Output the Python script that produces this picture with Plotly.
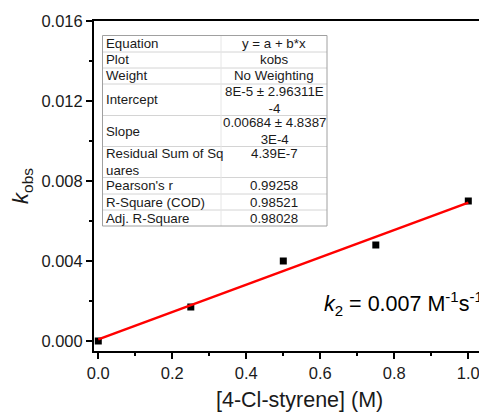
import plotly.graph_objects as go

# ---- data ----
conc = [0.0, 0.25, 0.5, 0.75, 1.0]
kobs = [0.0000, 0.0017, 0.0040, 0.0048, 0.0070]
fit_x = [0.0, 1.0]
fit_y = [0.00008, 0.00692]

x_ticks = [0.0, 0.2, 0.4, 0.6, 0.8, 1.0]
x_ticklabels = ["0.0", "0.2", "0.4", "0.6", "0.8", "1.0"]
y_ticks = [0.000, 0.004, 0.008, 0.012, 0.016]
y_ticklabels = ["0.000", "0.004", "0.008", "0.012", "0.016"]

table_labels = ["Equation", "Plot", "Weight", "Intercept", "Slope",
                "Residual Sum of Sq<br>uares", "Pearson's r", "R-Square (COD)", "Adj. R-Square"]
table_values = ["y = a + b*x", "kobs", "No Weighting", "8E-5 ± 2.96311E<br>-4",
                "0.00684 ± 4.8387<br>3E-4", "4.39E-7<br> ", "0.99258", "0.98521", "0.98028"]

# ---- layout geometry (pixels, in screenshot coordinates) ----
OFF = 8  # page body margin
SW, SH = 487, 413
W, H = SW - OFF, SH - OFF
PL, PR, PT, PB = 94, 487, 21, 351  # plot area in screenshot px
L, T = PL - OFF, PT - OFF
R = W - (PR - OFF)
B = H - (PB - OFF)
pw, ph = PR - PL, PB - PT

def xp(px):
    return (px - PL) / pw

def yp(py):
    return (PB - py) / ph

fig = go.Figure()
fig.add_trace(go.Scatter(x=conc, y=kobs, mode="markers",
                         marker=dict(symbol="square", size=7, color="black"),
                         showlegend=False, cliponaxis=False))
fig.add_trace(go.Scatter(x=fit_x, y=fit_y, mode="lines",
                         line=dict(color="#ff0000", width=2.5),
                         showlegend=False))

# table
row_bounds = [35.5, 52, 68, 84, 115.5, 146.5, 177.5, 194, 210, 226]
tx0, tx1, tcol = 102.5, 327, 221
shapes = []
for i in range(1, len(row_bounds) - 1):
    shapes.append(dict(type="line", xref="paper", yref="paper",
                       x0=xp(tx0), x1=xp(tx1), y0=yp(row_bounds[i]), y1=yp(row_bounds[i]),
                       line=dict(color="#d4d4d4", width=1)))
shapes.append(dict(type="line", xref="paper", yref="paper",
                   x0=xp(tcol), x1=xp(tcol), y0=yp(row_bounds[0]), y1=yp(row_bounds[-1]),
                   line=dict(color="#e6e6e6", width=1)))
shapes.append(dict(type="rect", xref="paper", yref="paper",
                   x0=xp(tx0), x1=xp(tx1), y0=yp(row_bounds[-1]), y1=yp(row_bounds[0]),
                   line=dict(color="#a0a0a0", width=1), fillcolor="rgba(0,0,0,0)"))

annotations = []
tfont = dict(family="Arial, Liberation Sans, sans-serif", size=13.3, color="#1a1a1a")
for i, (lab, val) in enumerate(zip(table_labels, table_values)):
    yc = (row_bounds[i] + row_bounds[i + 1]) / 2
    annotations.append(dict(text=lab, xref="paper", yref="paper", x=xp(tx0 + 1.5), y=yp(yc),
                            xanchor="left", yanchor="middle", showarrow=False, align="left",
                            font=tfont))
    annotations.append(dict(text=val, xref="paper", yref="paper", x=xp((tcol + tx1) / 2), y=yp(yc),
                            xanchor="center", yanchor="middle", showarrow=False, align="center",
                            font=tfont))

annotations.append(dict(text="<i>k</i><sub>2</sub> = 0.007 M<sup>-1</sup>s<sup>-1</sup>",
                        xref="paper", yref="paper", x=xp(485), y=yp(303),
                        xanchor="right", yanchor="middle", showarrow=False,
                        font=dict(family="Arial, Liberation Sans, sans-serif", size=21.5, color="black")))
annotations.append(dict(text="[4-Cl-styrene] (M)", xref="paper", yref="paper",
                        x=xp(299.5), y=yp(400), xanchor="center", yanchor="middle", showarrow=False,
                        font=dict(family="Arial, Liberation Sans, sans-serif", size=21.5, color="#1a1a1a")))

axis_font = dict(family="Arial, Liberation Sans, sans-serif", size=16.5, color="#1a1a1a")
fig.update_layout(
    width=W, height=H,
    margin=dict(l=L, r=R, t=T, b=B, pad=0),
    paper_bgcolor="white", plot_bgcolor="white",
    shapes=shapes, annotations=annotations,
    xaxis=dict(range=[-0.0116, 1.0505], tickvals=x_ticks, ticktext=x_ticklabels,
               showgrid=False, zeroline=False, showline=True, linecolor="black", linewidth=2,
               mirror=True, ticks="outside", ticklen=6, tickwidth=2, tickcolor="black",
               tickfont=axis_font,
               minor=dict(tickvals=[0.1, 0.3, 0.5, 0.7, 0.9], ticks="outside", ticklen=3,
                          tickwidth=2, tickcolor="black", showgrid=False)),
    yaxis=dict(range=[-0.0005, 0.016], tickvals=y_ticks, ticktext=y_ticklabels,
               showgrid=False, zeroline=False, showline=True, linecolor="black", linewidth=2,
               ticks="outside", ticklen=6, tickwidth=2, tickcolor="black",
               tickfont=axis_font,
               title=dict(text="<i>k</i><sub>obs</sub>", standoff=8,
                          font=dict(family="Arial, Liberation Sans, sans-serif", size=22, color="#1a1a1a")),
               minor=dict(tickvals=[0.002, 0.006, 0.010, 0.014], ticks="outside", ticklen=3,
                          tickwidth=2, tickcolor="black", showgrid=False)),
)

fig.write_html("out.html")
